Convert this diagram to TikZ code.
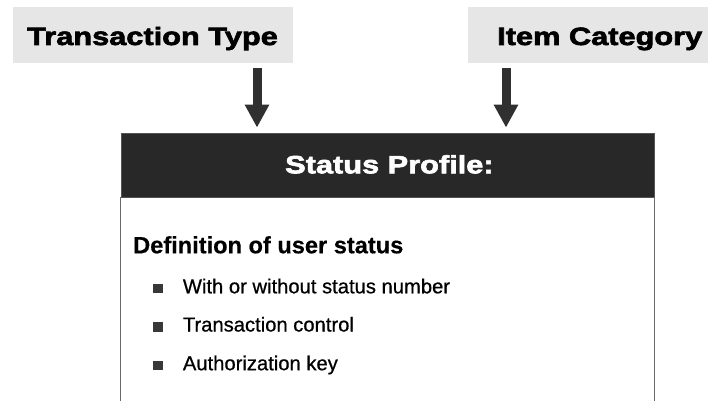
\documentclass[tikz,border=0pt]{standalone}
\usepackage{fontspec}
\setmainfont{Liberation Sans}
\newfontfamily\heavyfont{Liberation Sans Bold}[FakeBold=2.6,FakeStretch=1.23]
\newfontfamily\itemfont{Liberation Sans}[FakeBold=0.7]
\newfontfamily\subfont{Liberation Sans Bold}[FakeBold=0.4]
\usetikzlibrary{arrows.meta,calc}
\definecolor{labelgray}{HTML}{E6E6E6}
\definecolor{headdark}{HTML}{282828}
\definecolor{arrowdark}{HTML}{303030}
\definecolor{sidegray}{HTML}{6A6A6A}
\definecolor{bulletgray}{HTML}{383838}
\tikzset{
  labelbox/.style={rectangle, fill=labelgray, draw=none, inner sep=0pt},
  headbox/.style={rectangle, fill=headdark, draw=headdark!80!white, line width=0.8pt, inner sep=0pt},
  heavytext/.style={inner sep=0pt, anchor=base west, font=\heavyfont\fontsize{25}{30}\selectfont},
  subhead/.style={inner sep=0pt, anchor=base west, font=\subfont\fontsize{23.6}{28}\selectfont},
  itemtext/.style={inner sep=0pt, anchor=base west, font=\itemfont\fontsize{20.2}{24}\selectfont},
  flowarrow/.style={draw=arrowdark, line width=9pt, -{Triangle[width=23pt,length=23pt]}},
  sideline/.style={draw=sidegray, line width=1.5pt},
  bulletsq/.style={fill=bulletgray}
}
\begin{document}
\begin{tikzpicture}[x=1pt,y=-1pt]
  \useasboundingbox[fill=white] (0,0) rectangle (720,401);

  % input boxes
  \node[labelbox, minimum width=280pt, minimum height=56pt] (tt) at (153,35) {};
  \node[labelbox, minimum width=240pt, minimum height=56pt] (ic) at (588,35) {};
  \node[heavytext] (ttlabel) at (27,45) {Transaction Type};
  \node[heavytext] (iclabel) at (497,45) {Item Category};

  % status profile header
  \node[headbox, minimum width=533pt, minimum height=64pt] (hd) at (387.5,165) {};
  \node[heavytext, text=white] (hdlabel) at (285,173.3) {Status Profile:};

  % open body below the header
  \draw[sideline] (hd.south west) -- (hd.south west |- 0,401);
  \draw[sideline] (hd.south east) -- (hd.south east |- 0,401);

  % arrows into the profile
  \draw[flowarrow] ($(tt.south)+(104,5)$) -- ($(tt.south |- hd.north)+(104,-5)$);
  \draw[flowarrow] ($(ic.south)+(-82,5)$) -- ($(ic.south |- hd.north)+(-82,-5)$);

  % body text
  \node[subhead] (def) at (133,253.3) {Definition of user status};
  \node[itemtext] (i1) at (182.7,293.3) {With or without status number};
  \node[itemtext] (i2) at (182.7,331.5) {Transaction control};
  \node[itemtext] (i3) at (182.7,370.2) {Authorization key};
  \foreach \it in {i1,i2,i3}
    \fill[bulletsq] ($(\it.base west)+(-29.4,0)$) rectangle +(9.6,-9.6);
\end{tikzpicture}
\end{document}
